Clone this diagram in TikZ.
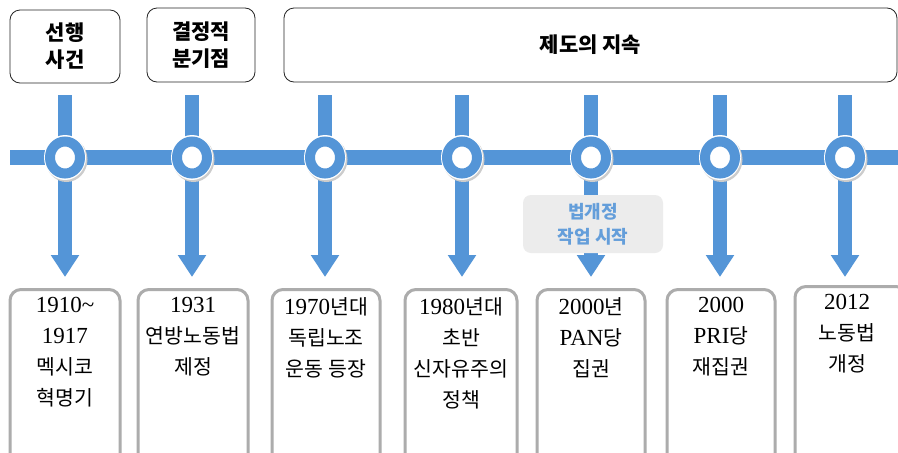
\documentclass[tikz,border=0pt]{standalone}
\usepackage{fontspec}
\setmainfont{Liberation Serif}
\newfontfamily\kr{Noto Sans CJK KR}
\usetikzlibrary{shapes.geometric,arrows.meta}
\definecolor{tlblue}{RGB}{84,149,215}
\definecolor{boxgray}{RGB}{172,172,172}
\definecolor{lblfill}{RGB}{236,236,236}
\definecolor{lbltext}{RGB}{100,158,218}
\newcommand{\K}[1]{{\kr\fontsize{20.5}{31}\selectfont #1}}
\begin{document}
\begin{tikzpicture}[x=1pt,y=-1pt,
  topbox/.style={draw=black!85, line width=0.8pt, rounded corners=10pt, fill=white,
    align=center, font=\kr\bfseries\fontsize{21}{27}\selectfont, inner sep=0pt},
  datebox/.style={draw=boxgray, line width=3pt, rounded corners=11pt, fill=white,
    minimum width=#1, minimum height=200pt, anchor=north, inner sep=0pt},
  datetext/.style={anchor=north, align=center, inner sep=0pt,
    font=\fontsize{23}{31}\selectfont},
  stem/.style={draw=tlblue, line width=14pt, -{Triangle[width=27pt,length=22pt]}},
  bar/.style={draw=tlblue, line width=15pt},
  hub/.style={ellipse, draw=tlblue, line width=10pt, fill=white,
    minimum width=30pt, minimum height=32pt, inner sep=0pt},
  lbl/.style={fill=lblfill, rounded corners=8pt, minimum width=140pt, minimum height=58pt,
    align=center, text=lbltext, font=\kr\bfseries\fontsize{18}{25}\selectfont, inner sep=0pt}]
\useasboundingbox (0,0) rectangle (898,453);
\clip (0,0) rectangle (898,453);
\fill[white] (0,0) rectangle (898,453);

% top boxes
\node[topbox, minimum width=110pt, minimum height=73pt] (t1) at (65,46.5) {선행\\사건};
\node[topbox, minimum width=108pt, minimum height=74pt] (t2) at (201,45) {결정적\\분기점};
\node[topbox, minimum width=613pt, minimum height=74pt] (t3) at (590.5,45) {제도의 지속};

% horizontal bar
\coordinate (hl) at (10,157.5);
\coordinate (hr) at (905,157.5);
\draw[bar] (hl) -- (hr);

% stems
\foreach \i/\x in {1/65,2/192,3/325,4/462,5/591,6/720,7/845}{
  \coordinate (u\i) at (\x,95);
  \coordinate (a\i) at (\x,277);
  \draw[stem] (u\i) -- (a\i);
}

% hubs
\foreach \i/\x in {1/65,2/192,3/325,4/462,5/591,6/720,7/845}{
  \fill[black!20] (\x+1.5,159.5) ellipse [x radius=21pt, y radius=22.5pt];
  \fill[white] (\x,157.5) ellipse [x radius=21pt, y radius=22.5pt];
  \node[hub] (c\i) at (\x,157.5) {};
}

% note label
\node[lbl] (note) at (593,224) {법개정\\작업 시작};

% bottom boxes
\node[datebox=110pt] (b1) at (65,288) {};
\node[datebox=110pt] (b2) at (193,288) {};
\node[datebox=108pt] (b3) at (326,288) {};
\node[datebox=112pt] (b4) at (461,288) {};
\node[datebox=108pt] (b5) at (591,288) {};
\node[datebox=108pt] (b6) at (721,288) {};
\node[datebox=112pt] (b7) at (851,285) {};

\node[datetext] (d1) at (65,297) {1910\textasciitilde\\1917\\\K{멕시코}\\\K{혁명기}};
\node[datetext] (d2) at (193,297) {1931\\\K{연방노동법}\\\K{제정}};
\node[datetext] (d3) at (326,297) {1970\K{년대}\\\K{독립노조}\\\K{운동 등장}};
\node[datetext] (d4) at (461,297) {1980\K{년대}\\\K{초반}\\\K{신자유주의}\\\K{정책}};
\node[datetext] (d5) at (591,297) {2000\K{년}\\PAN\K{당}\\\K{집권}};
\node[datetext] (d6) at (721,297) {2000\\PRI\K{당}\\\K{재집권}};
\node[datetext] (d7) at (847,294) {2012\\\K{노동법}\\\K{개정}};
\end{tikzpicture}
\end{document}
